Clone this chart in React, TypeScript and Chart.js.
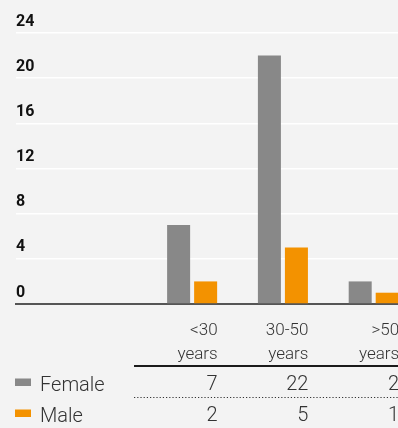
import { useEffect, useRef } from "react";
import { Chart, registerables } from "chart.js";

Chart.register(...registerables);

const categories = ["<30\nyears", "30-50\nyears", ">50\nyears"];
const seriesNames = ["Female", "Male"];
const female = [7, 22, 2];
const male = [2, 5, 1];
const yTicks = [0, 4, 8, 12, 16, 20, 24];
const seriesColors = ["#888888", "#f39200"];

const CANVAS_W = 420;
const CANVAS_H = 428;
const TEXT_FONT = "Roboto, 'Liberation Sans', sans-serif";

const tablePlugin = {
  id: "tablePlugin",
  afterDraw(chart: any) {
    const { ctx } = chart;
    const x = chart.scales.x;
    const W = chart.width;
    const colRight = (i: number) => x.getPixelForValue(i) + 25.5;
    const tableLeft = x.getPixelForValue(-0.64);
    ctx.save();
    ctx.fillStyle = "#333333";
    ctx.textBaseline = "alphabetic";
    ctx.textAlign = "right";
    ctx.font = `300 17px ${TEXT_FONT}`;
    categories.forEach((c, i) => {
      c.split("\n").forEach((ln, j) => {
        ctx.fillText(ln, colRight(i), 334.5 + j * 24.5);
      });
    });
    // header rule
    ctx.strokeStyle = "#1a1a1a";
    ctx.lineWidth = 2;
    ctx.beginPath();
    ctx.moveTo(tableLeft, 366);
    ctx.lineTo(W, 366);
    ctx.stroke();
    // dotted separator
    ctx.strokeStyle = "#333333";
    ctx.lineWidth = 1.2;
    ctx.setLineDash([1.2, 2]);
    ctx.beginPath();
    ctx.moveTo(tableLeft, 397.5);
    ctx.lineTo(W, 397.5);
    ctx.stroke();
    ctx.setLineDash([]);
    // rows
    chart.data.datasets.forEach((ds: any, r: number) => {
      const base = 390 + r * 31;
      ctx.fillStyle = ds.backgroundColor;
      ctx.fillRect(15, base - 11.5, 16, 7.5);
      ctx.fillStyle = "#333333";
      ctx.font = `300 20px ${TEXT_FONT}`;
      ctx.textAlign = "left";
      ctx.fillText(ds.label, 40, base + 1);
      ctx.textAlign = "right";
      ds.data.forEach((pt: any, i: number) => {
        ctx.fillText(String(pt.y), colRight(i), base);
      });
    });
    ctx.restore();
  },
};

export default function App() {
  const ref = useRef<HTMLCanvasElement>(null);
  useEffect(() => {
    if (!ref.current) return;
    const series = [female, male];
    const chart = new Chart(ref.current, {
      type: "bar",
      data: {
        datasets: series.map((vals, s) => ({
          label: seriesNames[s],
          data: vals.map((v, i) => ({ x: i, y: v })),
          backgroundColor: seriesColors[s],
          borderWidth: 0,
          categoryPercentage: 0.595,
          barPercentage: 0.852,
        })),
      },
      options: {
        responsive: false,
        animation: false,
        layout: { padding: { top: 33, left: 16, right: 0, bottom: 124 } },
        plugins: { legend: { display: false }, tooltip: { enabled: false } },
        scales: {
          x: {
            type: "linear",
            offset: false,
            min: -1.94,
            max: 2.51,
            afterBuildTicks: (axis: any) => {
              axis.ticks = categories.map((_, i) => ({ value: i }));
            },
            ticks: { display: false },
            grid: { display: false, drawTicks: false },
            border: { display: true, color: "#555555", width: 2 },
          },
          y: {
            min: yTicks[0],
            max: yTicks[yTicks.length - 1],
            afterBuildTicks: (axis: any) => {
              axis.ticks = yTicks.map((v) => ({ value: v }));
            },
            ticks: {
              mirror: true,
              padding: 0,
              labelOffset: -11.5,
              color: "#111111",
              font: { family: TEXT_FONT, size: 16, weight: "bold" },
            },
            grid: {
              color: (c: any) => (c.tick && c.tick.value === 0 ? "rgba(0,0,0,0)" : "#ffffff"),
              lineWidth: 1.6,
              drawTicks: false,
            },
            border: { display: false },
          },
        },
      },
      plugins: [tablePlugin],
    });
    return () => chart.destroy();
  }, []);
  return (
    <div
      style={{
        position: "absolute",
        left: 0,
        top: 0,
        width: 398,
        height: 428,
        overflow: "hidden",
        background: "#f3f3f3",
      }}
    >
      <canvas ref={ref} width={CANVAS_W} height={CANVAS_H} style={{ display: "block", width: CANVAS_W, height: CANVAS_H }} />
    </div>
  );
}
